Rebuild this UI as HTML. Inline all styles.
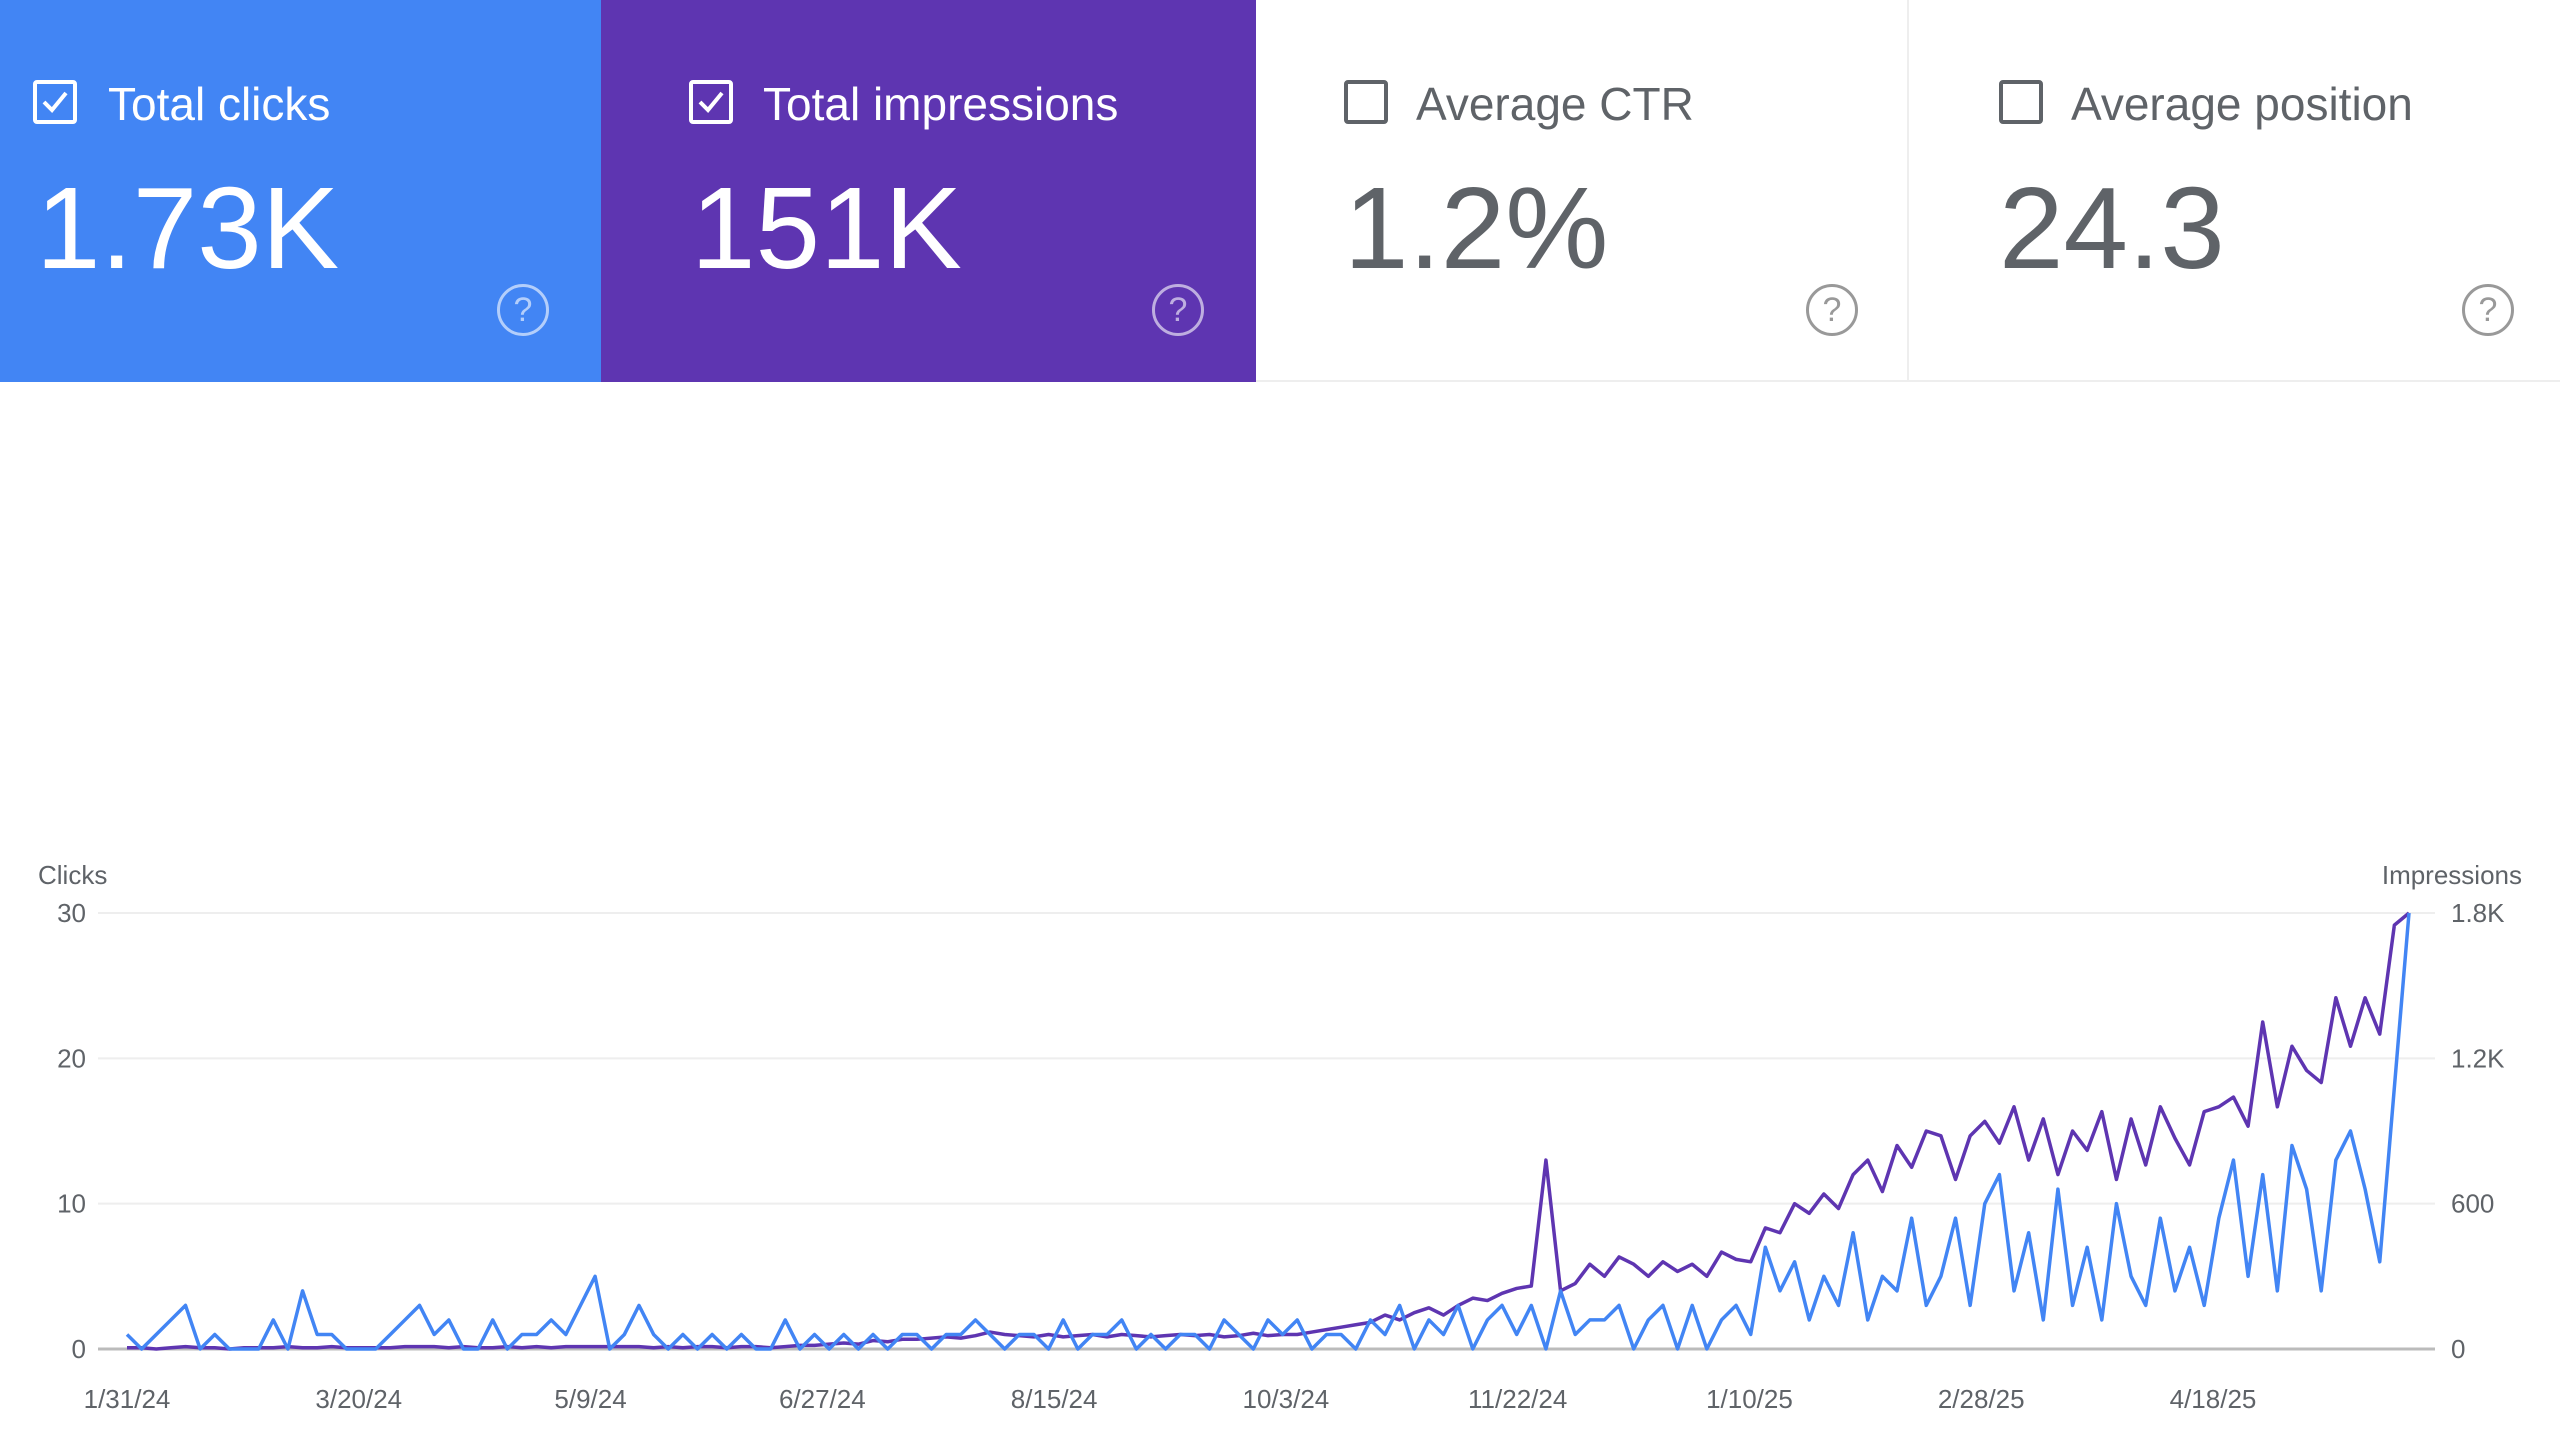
<!DOCTYPE html>
<html><head><meta charset="utf-8">
<style>
body{margin:0;width:2560px;height:1432px;background:#fff;overflow:hidden;font-family:"Liberation Sans",sans-serif;position:relative}
.card{position:absolute;top:0;height:382px;box-sizing:border-box}
.cb{position:absolute;left:33px;top:80px;width:44px;height:44px;box-sizing:border-box;border:4px solid;border-radius:4px}
.title{position:absolute;left:108px;top:78px;font-size:46px;line-height:52px}
.val{position:absolute;left:36px;top:168px;font-size:116px;line-height:120px}
.help{position:absolute;left:497px;top:284px;width:46px;height:46px;border:3px solid;border-radius:50%;font-size:34px;line-height:46px;text-align:center;box-sizing:content-box}
</style></head><body>
<div class="card" style="left:0;width:601px;background:#4285f4;color:#fff">
 <div class="cb" style="border-color:#fff"><svg width="36" height="36" viewBox="0 0 36 36" style="display:block"><path d="M7 18 L15 26 L29 9" stroke="#fff" stroke-width="4" fill="none"/></svg></div>
 <div class="title">Total clicks</div>
 <div class="val">1.73K</div>
 <div class="help" style="border-color:rgba(255,255,255,.6);color:rgba(255,255,255,.6)">?</div>
</div>
<div class="card" style="left:601px;width:655px;background:#5e35b1;color:#fff">
 <div class="cb" style="left:88px;border-color:#fff"><svg width="36" height="36" viewBox="0 0 36 36" style="display:block"><path d="M7 18 L15 26 L29 9" stroke="#fff" stroke-width="4" fill="none"/></svg></div>
 <div class="title" style="left:162px">Total impressions</div>
 <div class="val" style="left:90px">151K</div>
 <div class="help" style="left:551px;border-color:rgba(255,255,255,.6);color:rgba(255,255,255,.6)">?</div>
</div>
<div class="card" style="left:1256px;width:653px;background:#fff;color:#5f6368;border-right:2px solid #eee;border-bottom:2px solid #eee">
 <div class="cb" style="left:88px;border-color:#5f6368"></div>
 <div class="title" style="left:160px">Average CTR</div>
 <div class="val" style="left:88px">1.2%</div>
 <div class="help" style="left:550px;border-color:#999;color:#999">?</div>
</div>
<div class="card" style="left:1909px;width:651px;background:#fff;color:#5f6368;border-bottom:2px solid #eee">
 <div class="cb" style="left:90px;border-color:#5f6368"></div>
 <div class="title" style="left:162px">Average position</div>
 <div class="val" style="left:90px">24.3</div>
 <div class="help" style="left:553px;border-color:#999;color:#999">?</div>
</div>
<svg id="chart" width="2560" height="1432" style="position:absolute;left:0;top:0" xmlns="http://www.w3.org/2000/svg"></svg>
<script>
const clicks=[1,0,1,2,3,0,1,0,0,0,2,0,4,1,1,0,
0,0,1,2,3,1,2,0,0,2,0,1,1,2,1,3,
5,0,1,3,1,0,1,0,1,0,1,0,0,2,0,1,
0,1,0,1,0,1,1,0,1,1,2,1,0,1,1,0,
2,0,1,1,2,0,1,0,1,1,0,2,1,0,2,1,
2,0,1,1,0,2,1,3,0,2,1,3,0,2,3,1,
3,0,4,1,2,2,3,0,2,3,0,3,0,2,3,1,
7,4,6,2,5,3,8,2,5,4,9,3,5,9,3,10,
12,4,8,2,11,3,7,2,10,5,3,9,4,7,3,9,
13,5,12,4,14,11,4,13,15,11,6,18,30];
const impressions=[5,5,0,5,10,5,5,0,5,5,5,10,5,5,10,5,
5,5,5,10,10,10,5,10,5,5,10,5,10,5,10,10,
10,10,10,10,5,10,5,10,10,5,10,10,5,10,15,15,
20,25,20,35,30,40,40,45,50,45,55,70,60,55,50,60,
50,55,60,50,60,55,50,55,60,55,60,50,55,65,55,60,
60,70,80,90,100,110,140,120,150,170,140,180,210,200,230,250,
260,780,240,270,350,300,380,350,300,360,320,350,300,400,370,360,
500,480,600,560,640,580,720,780,650,840,750,900,880,700,880,940,
850,1000,780,950,720,900,820,980,700,950,760,1000,870,760,980,1000,
1040,920,1350,1000,1250,1150,1100,1450,1250,1450,1300,1750,1800];
const clickTicks=[0,10,20,30];
const impTicks=["0","600","1.2K","1.8K"];
const dateLabels=["1/31/24","3/20/24","5/9/24","6/27/24","8/15/24","10/3/24","11/22/24","1/10/25","2/28/25","4/18/25"];
const svg=document.getElementById('chart');
const NS='http://www.w3.org/2000/svg';
const X0=127,X1=2409,Y0=1349,Y1=913;
const xi=i=>X0+(X1-X0)*i/(clicks.length-1);
const yc=v=>Y0-(Y0-Y1)*v/30;
const yi=v=>Y0-(Y0-Y1)*v/1800;
function mk(t,a){const e=document.createElementNS(NS,t);for(const k in a)e.setAttribute(k,a[k]);svg.appendChild(e);return e;}
clickTicks.forEach((t,k)=>{
 const y=yc(t);
 const g=mk('line',{x1:98,x2:2435,y1:y,y2:y,stroke:k==0?'#bbb':'#eee','stroke-width':k==0?3:2});
 
 
 const l=mk('text',{x:86,y:y+9,'text-anchor':'end','font-size':26,fill:'#5f6368','font-family':'Liberation Sans'});
 l.textContent=t;
 
 
 const r=mk('text',{x:2451,y:y+9,'font-size':26,fill:'#5f6368','font-family':'Liberation Sans'});
 r.textContent=impTicks[k];
 
 
});
const dx=(2213-127)/9;
dateLabels.forEach((d,k)=>{
 const t=mk('text',{x:127+dx*k,y:1408,'text-anchor':'middle','font-size':26,fill:'#5f6368','font-family':'Liberation Sans'});
 t.textContent=d;
 
 
});
const a1=mk('text',{x:38,y:884,'font-size':26,fill:'#5f6368','font-family':'Liberation Sans'});a1.textContent='Clicks';


const a2=mk('text',{x:2522,y:884,'text-anchor':'end','font-size':26,fill:'#5f6368','font-family':'Liberation Sans'});a2.textContent='Impressions';


const pi=mk('polyline',{points:impressions.map((v,i)=>xi(i)+','+yi(v)).join(' '),fill:'none',stroke:'#5e35b1','stroke-width':3.5,'stroke-linejoin':'round'});


const pc=mk('polyline',{points:clicks.map((v,i)=>xi(i)+','+yc(v)).join(' '),fill:'none',stroke:'#4285f4','stroke-width':3.5,'stroke-linejoin':'round'});


</script>
</body></html>
